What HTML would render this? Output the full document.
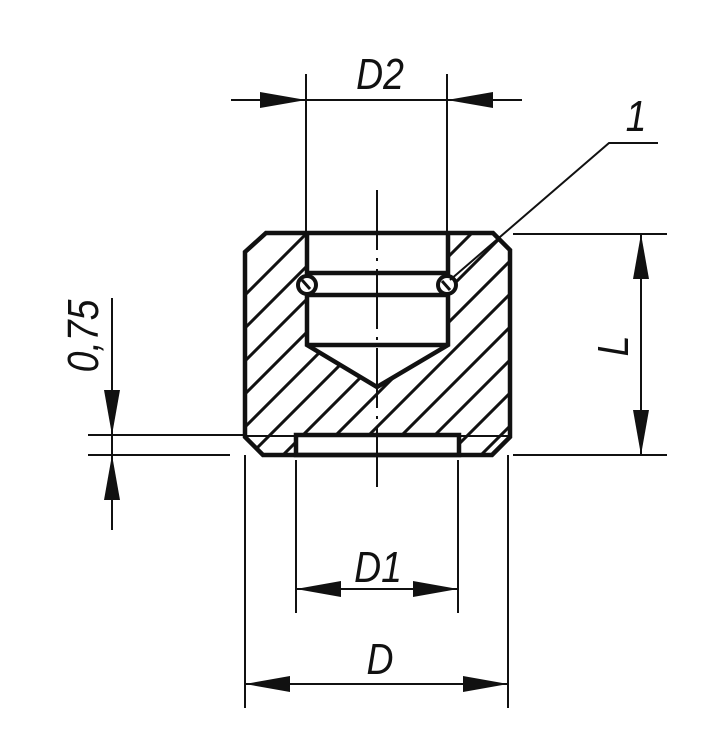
<!DOCTYPE html>
<html><head><meta charset="utf-8"><style>
html,body{margin:0;padding:0;background:#fff}
svg{display:block}
text{font-family:"Liberation Sans",sans-serif;font-style:italic;fill:#111}
</style></head><body>
<svg width="712" height="750" viewBox="0 0 712 750" xmlns="http://www.w3.org/2000/svg">
<defs>
<clipPath id="body"><polygon points="266,233 493,233 510,250 510,437 492,455 263,455 245,437 245,252"/></clipPath>
</defs>
<g stroke="#111" fill="none">
<g clip-path="url(#body)" stroke-width="3">
<line x1="40" y1="500" x2="340" y2="200"/><line x1="73" y1="500" x2="373" y2="200"/><line x1="106" y1="500" x2="406" y2="200"/><line x1="139" y1="500" x2="439" y2="200"/><line x1="172" y1="500" x2="472" y2="200"/><line x1="205" y1="500" x2="505" y2="200"/><line x1="238" y1="500" x2="538" y2="200"/><line x1="271" y1="500" x2="571" y2="200"/><line x1="304" y1="500" x2="604" y2="200"/><line x1="337" y1="500" x2="637" y2="200"/><line x1="370" y1="500" x2="670" y2="200"/><line x1="403" y1="500" x2="703" y2="200"/><line x1="436" y1="500" x2="736" y2="200"/><line x1="469" y1="500" x2="769" y2="200"/><line x1="502" y1="500" x2="802" y2="200"/><line x1="535" y1="500" x2="835" y2="200"/>
</g>
<polygon points="307,233 448,233 448,345 377,387 307,345" fill="#fff" stroke="none"/>
<rect x="296" y="435" width="163" height="20" fill="#fff" stroke="none"/>
<polygon points="266,233 493,233 510,250 510,437 492,455 263,455 245,437 245,252" stroke-width="4.5"/>
<line x1="245" y1="436" x2="296" y2="436" stroke-width="2"/>
<line x1="459" y1="436" x2="510" y2="436" stroke-width="2"/>
<polyline points="307,233 307,345 377,387 448,345 448,233" stroke-width="4.5"/>
<line x1="307" y1="345" x2="448" y2="345" stroke-width="4.5"/>
<line x1="307" y1="273" x2="448" y2="273" stroke-width="4.5"/>
<line x1="307" y1="295" x2="448" y2="295" stroke-width="4.5"/>
<rect x="296" y="435" width="163" height="20" stroke-width="4.5"/>
<circle cx="307" cy="285" r="9" fill="#fff" stroke-width="4"/>
<circle cx="447" cy="285" r="9" fill="#fff" stroke-width="4"/>
<line x1="302" y1="280" x2="310" y2="289" stroke-width="3"/>
<line x1="442" y1="281" x2="450" y2="290" stroke-width="3"/>
<line x1="377" y1="190" x2="377" y2="495" stroke-width="2" stroke-dasharray="60,8,3,8"/>
<line x1="306" y1="74" x2="306" y2="233" stroke-width="2"/>
<line x1="447" y1="74" x2="447" y2="233" stroke-width="2"/>
<line x1="231" y1="100" x2="522" y2="100" stroke-width="2"/>
<polyline points="450,280 609,143 658,143" stroke-width="2"/>
<line x1="513" y1="234" x2="667" y2="234" stroke-width="2"/>
<line x1="513" y1="455" x2="667" y2="455" stroke-width="2"/>
<line x1="641" y1="234" x2="641" y2="455" stroke-width="2"/>
<line x1="88" y1="435" x2="245" y2="435" stroke-width="2"/>
<line x1="88" y1="455" x2="230" y2="455" stroke-width="2"/>
<line x1="112" y1="298" x2="112" y2="530" stroke-width="2"/>
<line x1="296" y1="460" x2="296" y2="613" stroke-width="2"/>
<line x1="458" y1="460" x2="458" y2="613" stroke-width="2"/>
<line x1="296" y1="589" x2="458" y2="589" stroke-width="2"/>
<line x1="245" y1="455" x2="245" y2="708" stroke-width="2"/>
<line x1="508" y1="455" x2="508" y2="708" stroke-width="2"/>
<line x1="245" y1="684" x2="508" y2="684" stroke-width="2"/>
</g>
<g fill="#111">
<polygon points="306,100 260,92 260,108"/>
<polygon points="447,100 493,92 493,108"/>
<polygon points="641,234 633,279 649,279"/>
<polygon points="641,455 633,410 649,410"/>
<polygon points="112,435 104,390 120,390"/>
<polygon points="112,455 104,500 120,500"/>
<polygon points="296,589 341,581 341,597"/>
<polygon points="458,589 413,581 413,597"/>
<polygon points="245,684 290,676 290,692"/>
<polygon points="508,684 463,676 463,692"/>
</g>
<text x="380" y="89" font-size="44" text-anchor="middle" transform="translate(380,0) scale(0.85,1) translate(-380,0)">D2</text>
<text x="636" y="131" font-size="44" text-anchor="middle" transform="translate(636,0) scale(0.85,1) translate(-636,0)">1</text>
<text x="378" y="582" font-size="44" text-anchor="middle" transform="translate(378,0) scale(0.85,1) translate(-378,0)">D1</text>
<text x="380" y="674" font-size="44" text-anchor="middle" transform="translate(380,0) scale(0.85,1) translate(-380,0)">D</text>
<text font-size="44" text-anchor="middle" transform="translate(628,346) rotate(-90) scale(0.85,1)">L</text>
<text font-size="44" text-anchor="middle" transform="translate(98,336) rotate(-90) scale(0.85,1)">0,75</text>
</svg>
</body></html>
